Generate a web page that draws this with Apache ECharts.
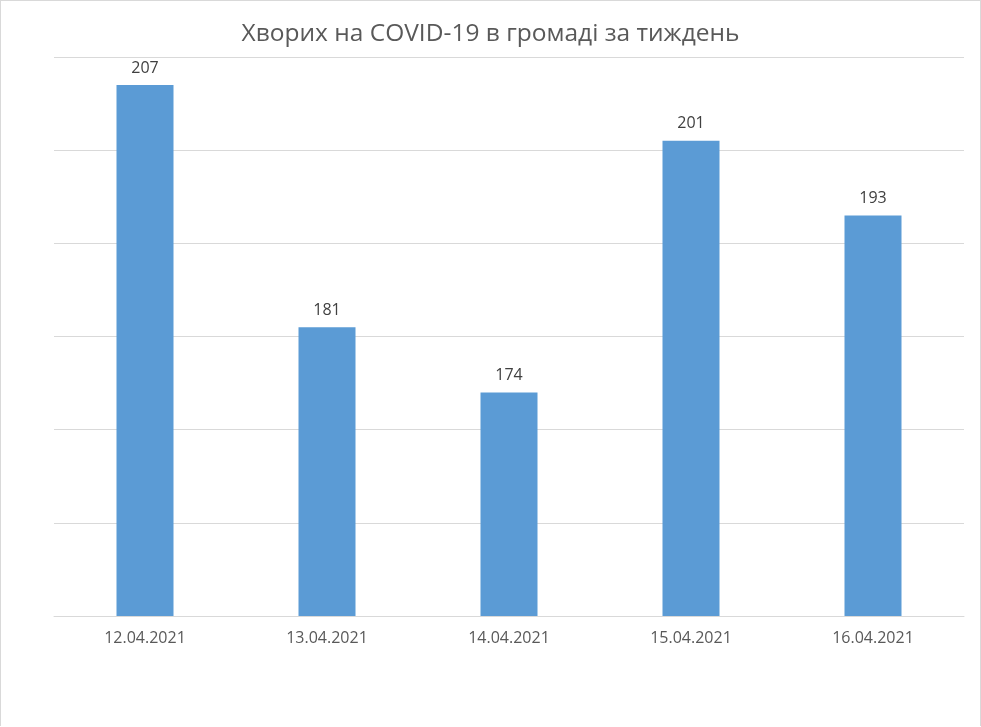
<!DOCTYPE html>
<html>
<head>
<meta charset="utf-8">
<script src="https://cdn.jsdelivr.net/npm/echarts@6/dist/echarts.min.js"></script>
<style>
html,body{margin:0;padding:0;background:#fff;}
#chart{width:979px;height:725px;border-left:1px solid #d9d9d9;border-top:1px solid #d9d9d9;border-right:1px solid #d9d9d9;}
</style>
</head>
<body>
<div id="chart"></div>
<script>
var days=['12.04.2021','13.04.2021','14.04.2021','15.04.2021','16.04.2021'];
var cases=[207,181,174,201,193];

var myChart=echarts.init(document.getElementById('chart'));
var option={
	animation:false,
	title:{
		text:'Хворих на COVID-19 в громаді за тиждень',
		left:'center',
		top:16,
		textStyle:{fontFamily:'Open Sans',fontSize:24.5,fontWeight:'normal',color:'#595959'}
	},
	grid:{left:53,right:16,top:56,bottom:110},
	xAxis:{
		type:'category',
		data:days,
		axisLine:{lineStyle:{color:'#d9d9d9',width:1}},
		axisTick:{show:false},
		axisLabel:{color:'#595959',fontFamily:'Open Sans',fontSize:16,margin:14}
	},
	yAxis:{
		type:'value',
		min:150,
		max:210,
		interval:10,
		axisLabel:{show:false},
		axisLine:{show:false},
		axisTick:{show:false},
		splitLine:{lineStyle:{color:'#d9d9d9',width:1}}
	},
	series:[{
		type:'bar',
		data:cases,
		barWidth:57,
		itemStyle:{color:'#5b9bd5'},
		label:{show:true,position:'top',distance:9,color:'#404040',fontFamily:'Open Sans',fontSize:16}
	}]
};
myChart.setOption(option);
</script>
</body>
</html>
